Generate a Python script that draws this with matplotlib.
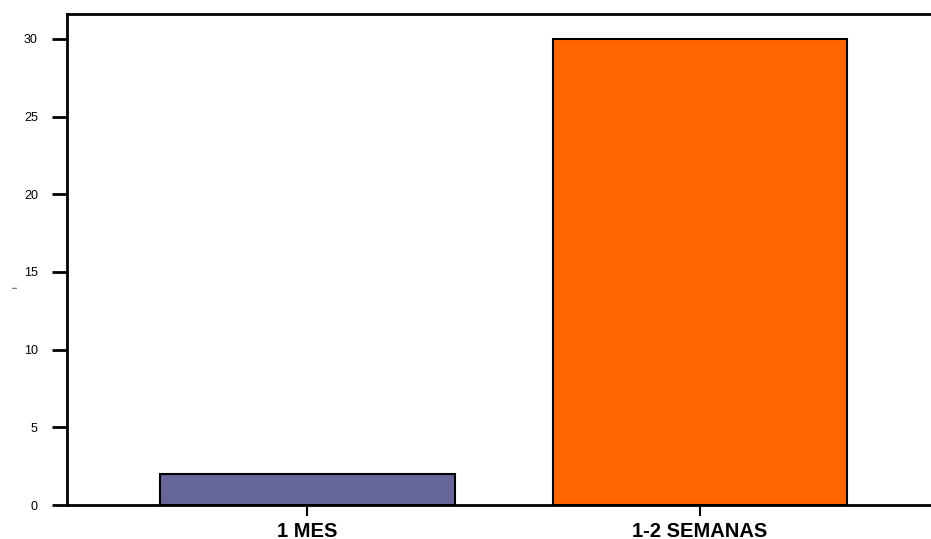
import matplotlib
matplotlib.use('Agg')
import matplotlib.pyplot as plt

categories = ['1 MES', '1-2 SEMANAS']
values = [2, 30]
colors = ['#666699', '#ff6600']
yticks = [0, 5, 10, 15, 20, 25, 30]

plt.rcParams['font.family'] = ['Liberation Sans', 'DejaVu Sans']

fig = plt.figure(figsize=(9.31, 5.39), dpi=100)
ax = fig.add_axes([0.072, 0.063, 0.928, 0.911])

x = range(len(categories))
ax.bar(x, values, width=0.75, color=colors, edgecolor='black', linewidth=1.5)

ax.set_xlim(-0.612, 1.588)
ax.set_ylim(0, 31.6)
ax.set_xticks(list(x))
ax.set_xticklabels(categories, fontsize=14.5, fontweight='bold')
ax.set_yticks(yticks)
ax.tick_params(axis='y', labelsize=9, length=11, width=2, direction='out', pad=10)
ax.tick_params(axis='x', length=8, width=1.5, direction='out', pad=4)

ax.spines['right'].set_visible(False)
for s in ['left', 'top', 'bottom']:
    ax.spines[s].set_linewidth(2)

ax.set_ylabel('l', fontsize=5)
ax.yaxis.set_label_coords(-0.055, 0.444)

fig.savefig('out.png', dpi=100)
